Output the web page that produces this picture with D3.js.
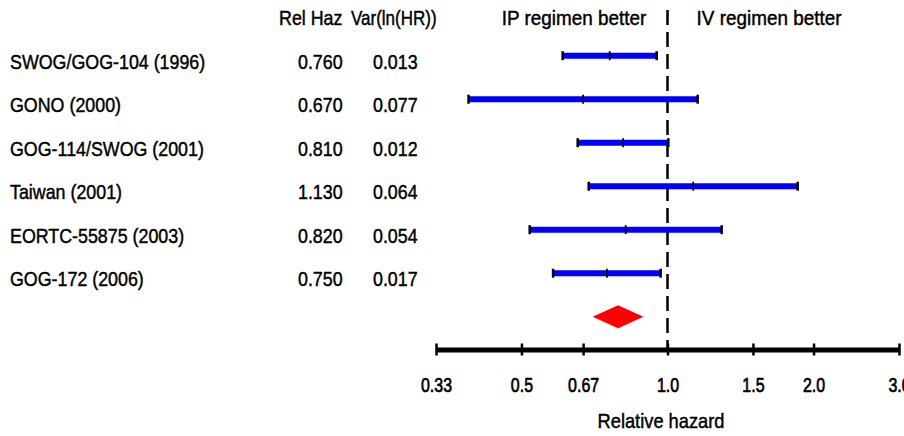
<!DOCTYPE html>
<html>
<head>
<meta charset="utf-8">
<script src="https://cdn.jsdelivr.net/npm/d3@7"></script>
<style>
  html, body { margin: 0; padding: 0; background: #fff; }
  svg text { font-family: "Liberation Sans", Arial, Helvetica, sans-serif; fill: #000; stroke: #000; stroke-width: 0.45px; }
</style>
</head>
<body>
<svg id="chart" width="904" height="436"></svg>
<script>
// ---- data ----
const studies = ["SWOG/GOG-104 (1996)", "GONO (2000)", "GOG-114/SWOG (2001)", "Taiwan (2001)", "EORTC-55875 (2003)", "GOG-172 (2006)"];
const relHaz = [0.760, 0.670, 0.810, 1.130, 0.820, 0.750];
const varLnHR = [0.013, 0.077, 0.012, 0.064, 0.054, 0.017];
const ciLower = [0.608, 0.389, 0.653, 0.688, 0.520, 0.581];
const ciUpper = [0.950, 1.154, 1.004, 1.855, 1.293, 0.968];
const pooledEst = [0.791];
const pooledLower = [0.701];
const pooledUpper = [0.892];
const tickValues = [1/3, 0.5, 0.67, 1.0, 1.5, 2.0, 3.0];
const tickLabels = ["0.33", "0.5", "0.67", "1.0", "1.5", "2.0", "3.0"];
const headers = ["Rel Haz", "Var(ln(HR))"];
const sideLabels = ["IP regimen better", "IV regimen better"];
const xTitle = "Relative hazard";

// ---- layout ----
const svg = d3.select("#chart");
const x = d3.scaleLog().domain([1/3, 3]).range([436, 899]);
const y = d3.scaleLinear().domain([0, 6]).range([55.7, 316.7]);
const axisY = 349.5;
const fs = 21;
const sx = 0.85;

function label(parent, tx, ty, str, anchor, scaleX) {
  return parent.append("text")
    .attr("transform", `translate(${tx},${ty}) scale(${scaleX || sx},1)`)
    .attr("font-size", fs)
    .attr("text-anchor", anchor || "start")
    .text(str);
}

// headers
label(svg, 279, 25, headers[0]);
label(svg, 351, 25, headers[1], "start", 0.81);
label(svg, 574, 25, sideLabels[0], "middle", 0.9);
label(svg, 769, 25, sideLabels[1], "middle", 0.9);

// reference dashed line
svg.append("line")
  .attr("x1", x(1)).attr("x2", x(1))
  .attr("y1", 10).attr("y2", axisY)
  .attr("stroke", "#000").attr("stroke-width", 2.5)
  .attr("stroke-dasharray", "15,7");

const rows = studies.map((s, i) => ({ s, i, hr: relHaz[i], v: varLnHR[i], lo: ciLower[i], hi: ciUpper[i] }));
const f3 = d3.format(".3f");

rows.forEach(d => {
  const yy = y(d.i);
  label(svg, 10, yy + 13, d.s);
  label(svg, 298, yy + 13, f3(d.hr));
  label(svg, 373, yy + 13, f3(d.v));
});

const row = svg.append("g").selectAll("g.row").data(rows).join("g").attr("class", "row");

row.append("line")
  .attr("x1", d => x(d.lo)).attr("x2", d => x(d.hi))
  .attr("y1", d => y(d.i)).attr("y2", d => y(d.i))
  .attr("stroke", "#0000ff").attr("stroke-width", 6);

// end caps and point-estimate tick
["lo", "hi"].forEach(k => {
  row.append("line")
    .attr("x1", d => x(d[k])).attr("x2", d => x(d[k]))
    .attr("y1", d => y(d.i) - 4.5).attr("y2", d => y(d.i) + 4.5)
    .attr("stroke", "#000").attr("stroke-width", 2.5);
});
row.append("line")
  .attr("x1", d => x(d.hr)).attr("x2", d => x(d.hr))
  .attr("y1", d => y(d.i) - 4.5).attr("y2", d => y(d.i) + 4.5)
  .attr("stroke", "#000").attr("stroke-width", 1.8);

// pooled diamond
const dy = y(6), hh = 11.5;
svg.append("path")
  .attr("d", `M${x(pooledLower[0])},${dy} L${x(pooledEst[0])},${dy - hh} L${x(pooledUpper[0])},${dy} L${x(pooledEst[0])},${dy + hh} Z`)
  .attr("fill", "#ff0000");

// axis
const axis = d3.axisBottom(x).tickValues(tickValues).tickFormat((d, i) => tickLabels[i]).tickSizeOuter(0);
const ax = svg.append("g").attr("transform", `translate(0,${axisY})`).call(axis);
ax.attr("font-family", null).attr("font-size", null);
ax.select(".domain").attr("stroke", "#000").attr("stroke-width", 5);
ax.selectAll(".tick line").attr("y1", -6).attr("y2", 6).attr("stroke", "#000").attr("stroke-width", 2.5);
ax.selectAll(".tick text")
  .attr("y", 0).attr("dy", 0)
  .attr("transform", "translate(0,42) scale(0.76,1)")
  .attr("font-size", fs).attr("fill", "#000")
  .style("stroke-width", "0.7px");

label(svg, 661, 428, xTitle, "middle", 0.87);
</script>
</body>
</html>
